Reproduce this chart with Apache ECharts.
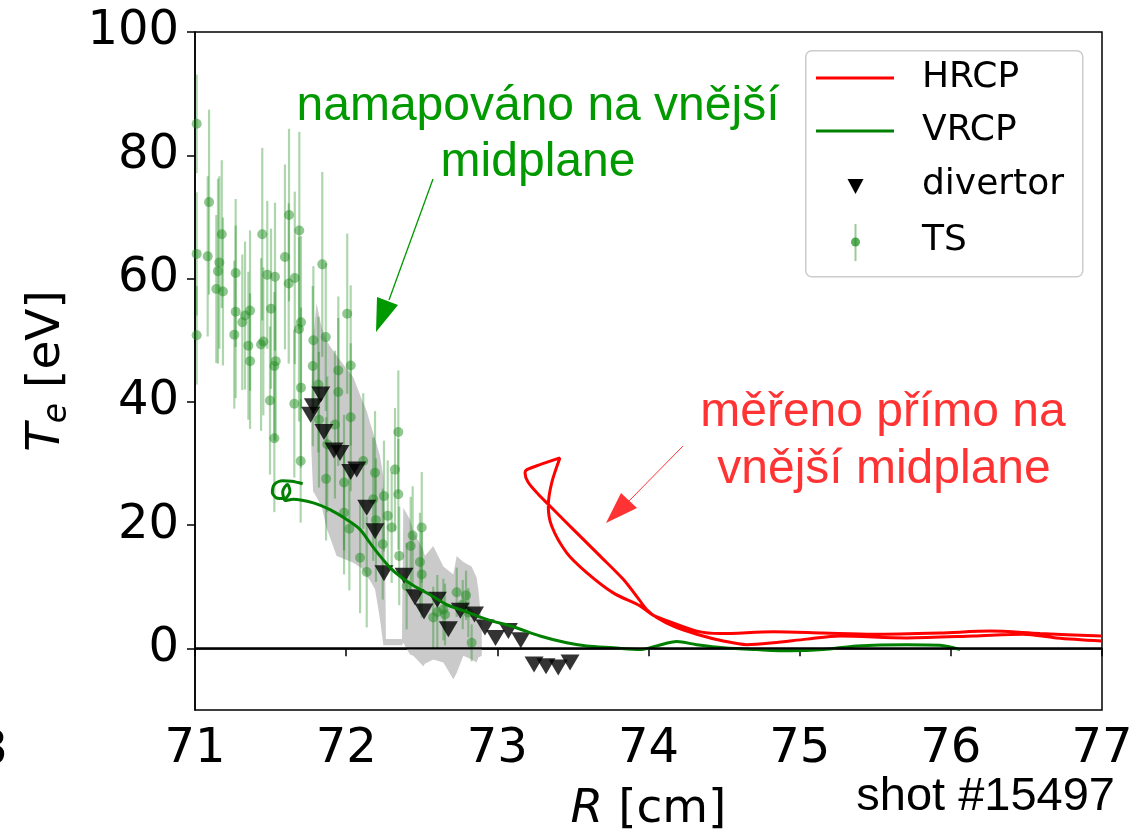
<!DOCTYPE html>
<html>
<head>
<meta charset="utf-8">
<script src="https://cdn.jsdelivr.net/npm/echarts@6/dist/echarts.min.js"></script>
<style>html,body{margin:0;padding:0;background:#fff;}#c{width:1138px;height:838px;}</style>
</head>
<body>
<div id="c"></div>
<script>
// ---- data ----
const xTicks = [71, 72, 73, 74, 75, 76, 77];
const yTicks = [0, 20, 40, 60, 80, 100];

// Thomson scattering (TS): R [cm], Te [eV], error [eV]
const tsR = [71.011,71.093,71.011,71.084,71.177,71.161,71.152,71.141,71.185,71.269,71.445,71.478,71.529,71.595,71.622,71.690,71.620,71.660,71.842,71.011,
  71.269,71.260,71.331,71.364,71.313,71.353,71.364,71.437,71.452,71.503,71.534,71.525,71.496,71.525,71.688,71.701,71.701,71.657,71.783,71.865,
  71.779,71.816,71.948,71.948,72.007,72.030,72.030,71.820,71.926,71.875,72.345,71.699,72.113,71.867,71.986,72.191,72.323,72.345,72.250,72.179,
  72.275,72.197,72.301,72.500,72.440,72.427,72.242,72.021,71.986,72.092,72.136,72.351,72.488,72.500,72.731,72.793,72.771,72.643,72.603,72.576,
  72.654,72.808,72.830,72.400];
const tsT = [85.1,72.4,64.0,63.6,67.2,62.6,61.2,58.3,57.9,60.9,67.2,60.6,60.3,63.5,70.3,67.8,59.2,60.1,62.3,50.8,
  54.6,50.9,54.0,54.8,52.9,49.1,46.6,49.3,49.8,55.1,46.6,45.8,40.2,34.1,51.8,52.9,42.3,39.7,50.0,50.5,
  45.8,42.8,45.1,41.6,54.3,45.9,37.5,37.1,36.3,33.1,35.1,30.4,30.4,27.5,26.9,28.5,29.0,25.0,24.7,24.2,
  21.5,20.8,19.6,19.6,18.3,16.6,16.9,19.4,22.0,14.7,12.4,15.0,14.0,12.0,9.1,8.6,7.1,6.3,5.9,5.0,
  5.5,5.8,0.9,10.1];
const tsErr = [8,15,10,13,12,14,15,12,12,12,14,12,12,15,14,16,13,14,15,8,
  14,12,12,13,11,12,11,14,12,13,13,12,12,12,15,14,13,12,12,12,
  13,11,12,12,13,13,12,11,12,11,10,10,11,10,11,10,10,9,9,10,
  9,10,9,9,8,8,9,10,10,9,9,8,8,7,4,4,4,5,6,5,
  5,4,3,7];

// divertor probes
const divR = [71.832,71.783,71.765,71.853,71.919,71.959,72.030,72.070,72.136,72.191,72.250,72.383,72.455,72.515,72.603,72.676,72.755,72.849,72.918,72.988,73.073,73.155,73.243,73.322,73.403,73.481];
const divT = [41.2,39.3,37.9,35.1,32.1,31.7,28.6,29.0,22.8,19.0,12.2,11.8,8.3,6.0,7.9,3.1,6.1,5.5,3.4,1.7,2.8,1.3,-2.6,-2.9,-3.1,-2.3];

// uncertainty band of the mapped VRCP profile
const bandR = [71.770,71.781,71.804,71.838,71.871,71.893,71.937,71.959,72.047,72.103,72.136,72.158,72.191,72.224,72.246,72.256,72.263,72.369,72.378,72.422,72.444,72.510,72.521,72.576,72.643,72.709,72.731,72.775,72.830,72.863,72.874,72.897];
const bandUpper = [40,50,56,52,50,49,47.5,46.8,44,40.4,38.5,36.6,34,31.2,27.9,20,1.5,1.5,22.8,20.9,19,16,15,16.6,13.3,12,15,14,13.3,11.5,9.6,4];
const bandLower = [32,25.5,24.5,23,19.5,18,15,14.8,13.9,13,11.7,11,9.6,4.7,0.5,0.5,0.5,0.5,0.9,-1.0,-1.2,-2.9,-2.5,-1.8,-2.3,-5.0,-4.0,-1.2,-1.8,-2.3,-1.5,-1.2];

// VRCP mapped to outer midplane
const vrcpR = [71.712,71.640,71.580,71.525,71.512,71.540,71.590,71.628,71.612,71.580,71.598,71.650,71.783,71.893,72.003,72.091,72.158,72.224,72.290,72.356,72.444,72.555,72.665,72.775,72.930,73.106,73.282,73.459,73.591,73.767,73.944,74.054,74.187,74.319,74.495,74.716,74.936,75.156,75.377,75.708,75.928,76.061];
const vrcpT = [26.7,27.1,27.2,26.6,25.3,24.4,24.3,25.5,26.6,25.4,24.0,24.2,23.6,22.5,20.9,19.3,17.1,15.0,13.1,11.7,10.2,8.7,7.1,6.1,4.7,3.5,2.0,0.9,0.4,0.1,-0.2,0.4,1.1,0.6,0.1,-0.2,-0.4,-0.2,0.4,0.6,0.5,-0.2];

// HRCP measured directly at outer midplane
const hrcpR = [76.998,76.700,76.479,76.149,75.708,75.267,75.046,74.826,74.650,74.495,74.319,74.164,74.054,73.988,73.944,73.833,73.679,73.502,73.348,73.271,73.203,73.183,73.196,73.282,73.414,
  73.360,73.337,73.360,73.459,73.591,73.767,73.944,74.030,74.120,74.319,74.473,74.826,75.156,75.487,75.928,76.259,76.590,76.998];
const hrcpT = [1.2,1.7,2.3,2.0,1.7,2.0,1.5,0.9,0.6,1.2,2.3,3.6,5.0,6.3,7.7,11.2,15.0,19.3,23.1,25.0,27.0,28.5,29.0,29.8,30.9,
  26.9,23.1,19.8,15.5,12.3,9.0,6.9,5.4,4.5,2.8,2.4,2.7,2.5,2.3,2.5,2.8,2.4,2.0];

const zeroR = [71, 77];
const zeroT = [0, 0];

// ---- chart ----
const chart = echarts.init(document.getElementById('c'), null, {renderer: 'canvas'});
const AX = 'DejaVu Sans';

const bandData = [0];
const option = {
  animation: false,
  backgroundColor: '#fff',
  grid: {left: 195, right: 36, top: 32, bottom: 127, show: true, borderColor: '#000', borderWidth: 1.5, backgroundColor: 'transparent'},
  xAxis: {
    type: 'value', min: 71, max: 77, interval: 1,
    axisLine: {lineStyle: {color: '#000', width: 1.5}},
    axisTick: {show: true, inside: false, length: 8, lineStyle: {color: '#000', width: 1.5}},
    axisLabel: {fontFamily: AX, fontSize: 48, color: '#000', margin: 16, formatter: v => String(v)},
    splitLine: {show: false},
    name: '{i|R} [cm]', nameLocation: 'middle', nameGap: 76,
    nameTextStyle: {fontFamily: AX, fontSize: 47, color: '#000', rich: {i: {fontFamily: AX, fontSize: 47, fontStyle: 'italic', color: '#000'}}}
  },
  yAxis: {
    type: 'value', min: -10, max: 100,
    axisLine: {lineStyle: {color: '#000', width: 1.5}},
    axisTick: {show: true, inside: false, length: 8, lineStyle: {color: '#000', width: 1.5}, customValues: yTicks},
    axisLabel: {fontFamily: AX, fontSize: 48, color: '#000', margin: 16, customValues: yTicks},
    splitLine: {show: false},
    name: '{i|T}{s|e} [eV]', nameLocation: 'middle', nameGap: 121, nameRotate: 90,
    nameTextStyle: {fontFamily: AX, fontSize: 47, color: '#000', rich: {
      i: {fontFamily: AX, fontSize: 47, fontStyle: 'italic', color: '#000'},
      s: {fontFamily: AX, fontSize: 33, fontStyle: 'italic', color: '#000', padding: [22, 0, 0, 0]}
    }}
  },
  series: [
    {
      type: 'custom', name: 'band', z: 1, silent: true,
      data: bandData,
      renderItem: function (params, api) {
        const pts = [];
        for (let i = 0; i < bandR.length; i++) pts.push(api.coord([bandR[i], bandUpper[i]]));
        for (let i = bandR.length - 1; i >= 0; i--) pts.push(api.coord([bandR[i], bandLower[i]]));
        return {type: 'polygon', shape: {points: pts}, style: {fill: '#cacaca', stroke: null}};
      }
    },
    {
      type: 'custom', name: 'TS err', z: 2, silent: true,
      data: tsR.map((r, i) => [r, tsT[i] - tsErr[i], tsT[i] + tsErr[i]]),
      renderItem: function (params, api) {
        const a = api.coord([api.value(0), api.value(1)]);
        const b = api.coord([api.value(0), api.value(2)]);
        return {type: 'line', shape: {x1: a[0], y1: a[1], x2: b[0], y2: b[1]}, style: {stroke: 'rgba(0,128,0,0.32)', lineWidth: 2.2}};
      },
      clip: true
    },
    {
      type: 'scatter', name: 'TS', z: 3,
      data: tsR.map((r, i) => [r, tsT[i]]),
      symbol: 'circle', symbolSize: 10,
      itemStyle: {color: 'rgba(30,140,30,0.62)'}
    },
    {
      type: 'scatter', name: 'divertor', z: 4,
      data: divR.map((r, i) => [r, divT[i]]),
      symbol: 'triangle', symbolRotate: 180, symbolSize: [19, 16],
      itemStyle: {color: '#000'}
    },
    {
      type: 'line', name: 'VRCP', z: 5,
      data: vrcpR.map((r, i) => [r, vrcpT[i]]),
      showSymbol: false, symbol: 'none', smooth: 0.3,
      lineStyle: {color: '#008000', width: 3}
    },
    {
      type: 'line', name: 'HRCP', z: 6,
      data: hrcpR.map((r, i) => [r, hrcpT[i]]),
      showSymbol: false, symbol: 'none', smooth: 0.3,
      lineStyle: {color: '#ff0000', width: 3}
    },
    {
      type: 'line', name: 'zero', z: 7,
      data: zeroR.map((r, i) => [r, zeroT[i]]),
      showSymbol: false, symbol: 'none',
      lineStyle: {color: '#000', width: 2.2}
    }
  ],
  graphic: [
    // legend
    {type: 'rect', left: 805, top: 50, z: 100, shape: {width: 277, height: 226, r: 6}, style: {fill: 'rgba(255,255,255,0.85)', stroke: '#cccccc', lineWidth: 1.5}},
    {type: 'line', z: 101, shape: {x1: 816, y1: 78, x2: 894, y2: 78}, style: {stroke: '#ff0000', lineWidth: 3}},
    {type: 'line', z: 101, shape: {x1: 816, y1: 131, x2: 894, y2: 131}, style: {stroke: '#008000', lineWidth: 3}},
    {type: 'polygon', z: 101, shape: {points: [[847.5, 179], [863.5, 179], [855.5, 194]]}, style: {fill: '#000'}},
    {type: 'line', z: 101, shape: {x1: 855.5, y1: 224, x2: 855.5, y2: 261}, style: {stroke: 'rgba(0,128,0,0.4)', lineWidth: 2}},
    {type: 'circle', z: 102, shape: {cx: 855.5, cy: 242, r: 4.5}, style: {fill: 'rgba(20,140,20,0.7)'}},
    {type: 'text', z: 102, style: {x: 922, y: 78, text: 'HRCP', font: '36px "DejaVu Sans"', fill: '#000', verticalAlign: 'middle'}},
    {type: 'text', z: 102, style: {x: 922, y: 131, text: 'VRCP', font: '36px "DejaVu Sans"', fill: '#000', verticalAlign: 'middle'}},
    {type: 'text', z: 102, style: {x: 922, y: 185, text: 'divertor', font: '36px "DejaVu Sans"', fill: '#000', verticalAlign: 'middle'}},
    {type: 'text', z: 102, style: {x: 922, y: 241, text: 'TS', font: '36px "DejaVu Sans"', fill: '#000', verticalAlign: 'middle'}},
    // green annotation
    {type: 'text', z: 110, style: {x: 538, y: 107, text: 'namapováno na vnější', font: '48px "Liberation Sans"', fill: '#009900', align: 'center', verticalAlign: 'middle'}},
    {type: 'text', z: 110, style: {x: 538, y: 163, text: 'midplane', font: '48px "Liberation Sans"', fill: '#009900', align: 'center', verticalAlign: 'middle'}},
    {type: 'line', z: 110, shape: {x1: 433, y1: 179, x2: 389, y2: 300}, style: {stroke: '#009900', lineWidth: 1.3}},
    {type: 'polygon', z: 110, shape: {points: [[376, 332], [377, 297], [398, 305]]}, style: {fill: '#009900'}},
    // red annotation
    {type: 'text', z: 110, style: {x: 883, y: 413, text: 'měřeno přímo na', font: '48px "Liberation Sans"', fill: '#ff3333', align: 'center', verticalAlign: 'middle'}},
    {type: 'text', z: 110, style: {x: 884, y: 470, text: 'vnější midplane', font: '48px "Liberation Sans"', fill: '#ff3333', align: 'center', verticalAlign: 'middle'}},
    {type: 'line', z: 110, shape: {x1: 683, y1: 446, x2: 627, y2: 503}, style: {stroke: '#ff3333', lineWidth: 1}},
    {type: 'polygon', z: 110, shape: {points: [[606, 523], [621, 493], [637, 508]]}, style: {fill: '#ff3333'}},
    // shot number
    {type: 'text', z: 110, style: {x: 1115, y: 797, text: 'shot #15497', font: '47px "Liberation Sans"', fill: '#000', align: 'right', verticalAlign: 'middle'}},
    // clipped tick label of neighbouring panel
    {type: 'text', z: 110, style: {x: 8, y: 752, text: '3', font: '48px "DejaVu Sans"', fill: '#000', align: 'right', verticalAlign: 'middle'}}
  ]
};
chart.setOption(option);
</script>
</body>
</html>
